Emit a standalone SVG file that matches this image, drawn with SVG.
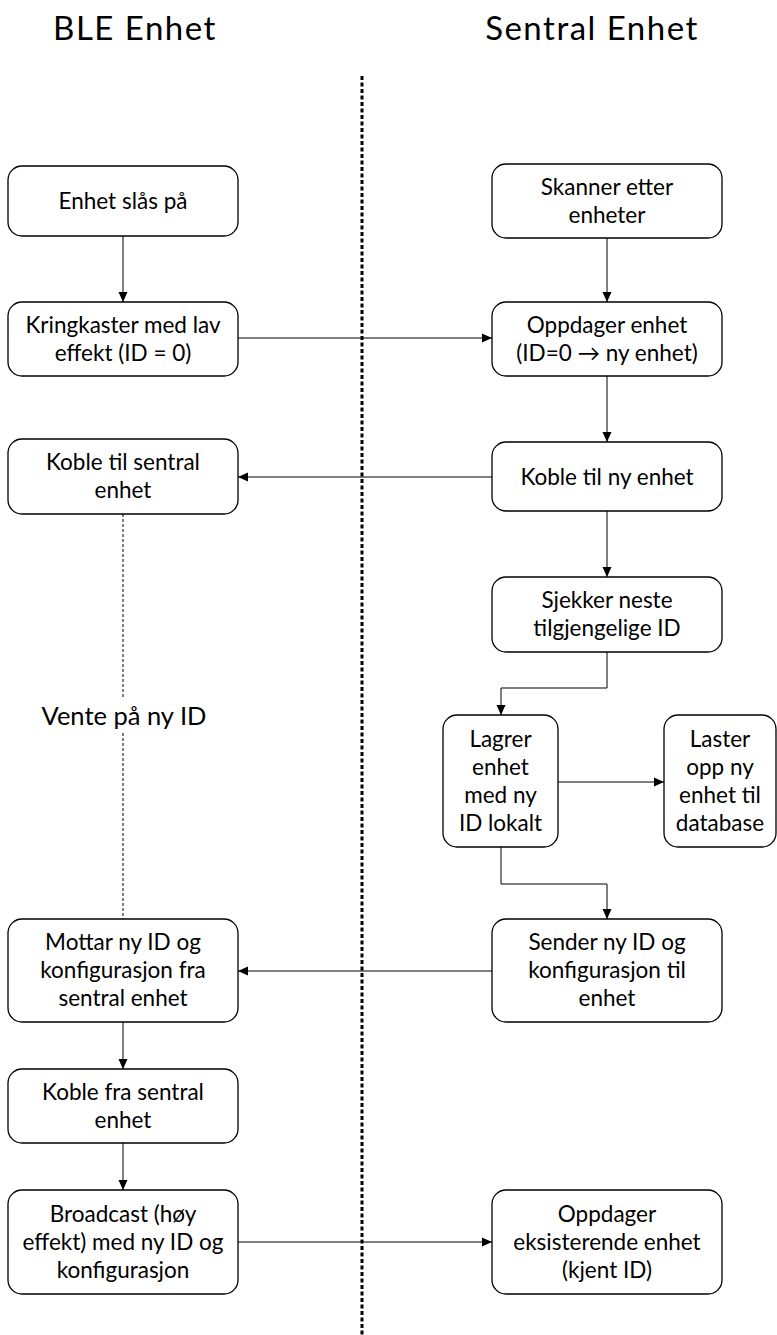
<svg xmlns="http://www.w3.org/2000/svg" width="777" height="1335" viewBox="0 0 777 1335">
<defs>
<marker id="ah" markerWidth="10" markerHeight="10" refX="10" refY="5" orient="auto" markerUnits="userSpaceOnUse">
<path d="M0,0.5 L10,5 L0,9.5 Z" fill="#000"/>
</marker>
<style>
.box{fill:#fff;stroke:#000;stroke-width:1.3}
.t{font-family:Lato,"Liberation Sans",sans-serif;font-size:22.5px;fill:#000;text-anchor:middle}
.title{font-family:Lato,"Liberation Sans",sans-serif;font-size:33px;letter-spacing:1.5px;fill:#000;text-anchor:middle}
.c{fill:none;stroke:#000;stroke-width:1}
</style>
</defs>
<rect width="777" height="1335" fill="#fff"/>
<text class="title" x="135" y="40">BLE Enhet</text>
<text class="title" x="592" y="40">Sentral Enhet</text>
<line x1="362" y1="76" x2="362" y2="1335" stroke="#000" stroke-width="3" stroke-dasharray="4 2.5"/>
<g id="connectors">
<line class="c" x1="123" y1="236" x2="123" y2="302" marker-end="url(#ah)"/>
<line class="c" x1="607" y1="238" x2="607" y2="302" marker-end="url(#ah)"/>
<line class="c" x1="238" y1="338" x2="492" y2="338" marker-end="url(#ah)"/>
<line class="c" x1="607" y1="376" x2="607" y2="442" marker-end="url(#ah)"/>
<line class="c" x1="492" y1="477" x2="238" y2="477" marker-end="url(#ah)"/>
<line class="c" x1="607" y1="511" x2="607" y2="577" marker-end="url(#ah)"/>
<polyline class="c" points="607,652 607,688 501,688 501,715" marker-end="url(#ah)"/>
<line class="c" x1="558" y1="782" x2="664" y2="782" marker-end="url(#ah)"/>
<polyline class="c" points="501,847 501,884 607,884 607,919" marker-end="url(#ah)"/>
<line class="c" x1="492" y1="971" x2="238" y2="971" marker-end="url(#ah)"/>
<line class="c" x1="123" y1="1022" x2="123" y2="1069" marker-end="url(#ah)"/>
<line class="c" x1="123" y1="1143" x2="123" y2="1190" marker-end="url(#ah)"/>
<line class="c" x1="238" y1="1242" x2="492" y2="1242" marker-end="url(#ah)"/>
<line class="c" x1="123" y1="514" x2="123" y2="697" stroke-dasharray="3 2"/>
<line class="c" x1="123" y1="733" x2="123" y2="919" stroke-dasharray="3 2"/>
</g>
<g id="n1"><rect class="box" x="8" y="166" width="230" height="70" rx="14"/><text class="t" x="123" y="209">Enhet slås på</text></g>
<g id="n2"><rect class="box" x="8" y="302" width="230" height="74" rx="14"/><text class="t" x="123" y="333">Kringkaster med lav</text><text class="t" x="123" y="361">effekt (ID = 0)</text></g>
<g id="n3"><rect class="box" x="8" y="439" width="230" height="75" rx="14"/><text class="t" x="123" y="470">Koble til sentral</text><text class="t" x="123" y="498">enhet</text></g>
<g id="wait"><text class="t" x="124" y="725" style="font-size:25.5px">Vente på ny ID</text></g>
<g id="n4"><rect class="box" x="8" y="919" width="230" height="103" rx="14"/><text class="t" x="123" y="950">Mottar ny ID og</text><text class="t" x="123" y="978">konfigurasjon fra</text><text class="t" x="123" y="1006">sentral enhet</text></g>
<g id="n5"><rect class="box" x="8" y="1069" width="230" height="74" rx="14"/><text class="t" x="123" y="1100">Koble fra sentral</text><text class="t" x="123" y="1128">enhet</text></g>
<g id="n6"><rect class="box" x="8" y="1190" width="230" height="104" rx="14"/><text class="t" x="123" y="1222">Broadcast (høy</text><text class="t" x="123" y="1250">effekt) med ny ID og</text><text class="t" x="123" y="1278">konfigurasjon</text></g>
<g id="r1"><rect class="box" x="492" y="164" width="230" height="74" rx="14"/><text class="t" x="607" y="195">Skanner etter</text><text class="t" x="607" y="223">enheter</text></g>
<g id="r2"><rect class="box" x="492" y="302" width="230" height="74" rx="14"/><text class="t" x="607" y="333">Oppdager enhet</text><text class="t" x="607" y="361">(ID=0 →  ny enhet)</text></g>
<g id="r3"><rect class="box" x="492" y="442" width="230" height="69" rx="14"/><text class="t" x="607" y="485">Koble til ny enhet</text></g>
<g id="r4"><rect class="box" x="492" y="577" width="230" height="75" rx="14"/><text class="t" x="607" y="608">Sjekker neste</text><text class="t" x="607" y="636">tilgjengelige ID</text></g>
<g id="r5"><rect class="box" x="443" y="715" width="115" height="132" rx="14"/><text class="t" x="500.5" y="747">Lagrer</text><text class="t" x="500.5" y="775">enhet</text><text class="t" x="500.5" y="803">med ny</text><text class="t" x="500.5" y="831">ID lokalt</text></g>
<g id="r6"><rect class="box" x="664" y="715" width="112" height="132" rx="14"/><text class="t" x="720" y="747">Laster</text><text class="t" x="720" y="775">opp ny</text><text class="t" x="720" y="803">enhet til</text><text class="t" x="720" y="831">database</text></g>
<g id="r7"><rect class="box" x="492" y="919" width="230" height="103" rx="14"/><text class="t" x="607" y="950">Sender ny ID og</text><text class="t" x="607" y="978">konfigurasjon til</text><text class="t" x="607" y="1006">enhet</text></g>
<g id="r8"><rect class="box" x="492" y="1190" width="230" height="104" rx="14"/><text class="t" x="607" y="1222">Oppdager</text><text class="t" x="607" y="1250">eksisterende enhet</text><text class="t" x="607" y="1278">(kjent ID)</text></g>
</svg>
